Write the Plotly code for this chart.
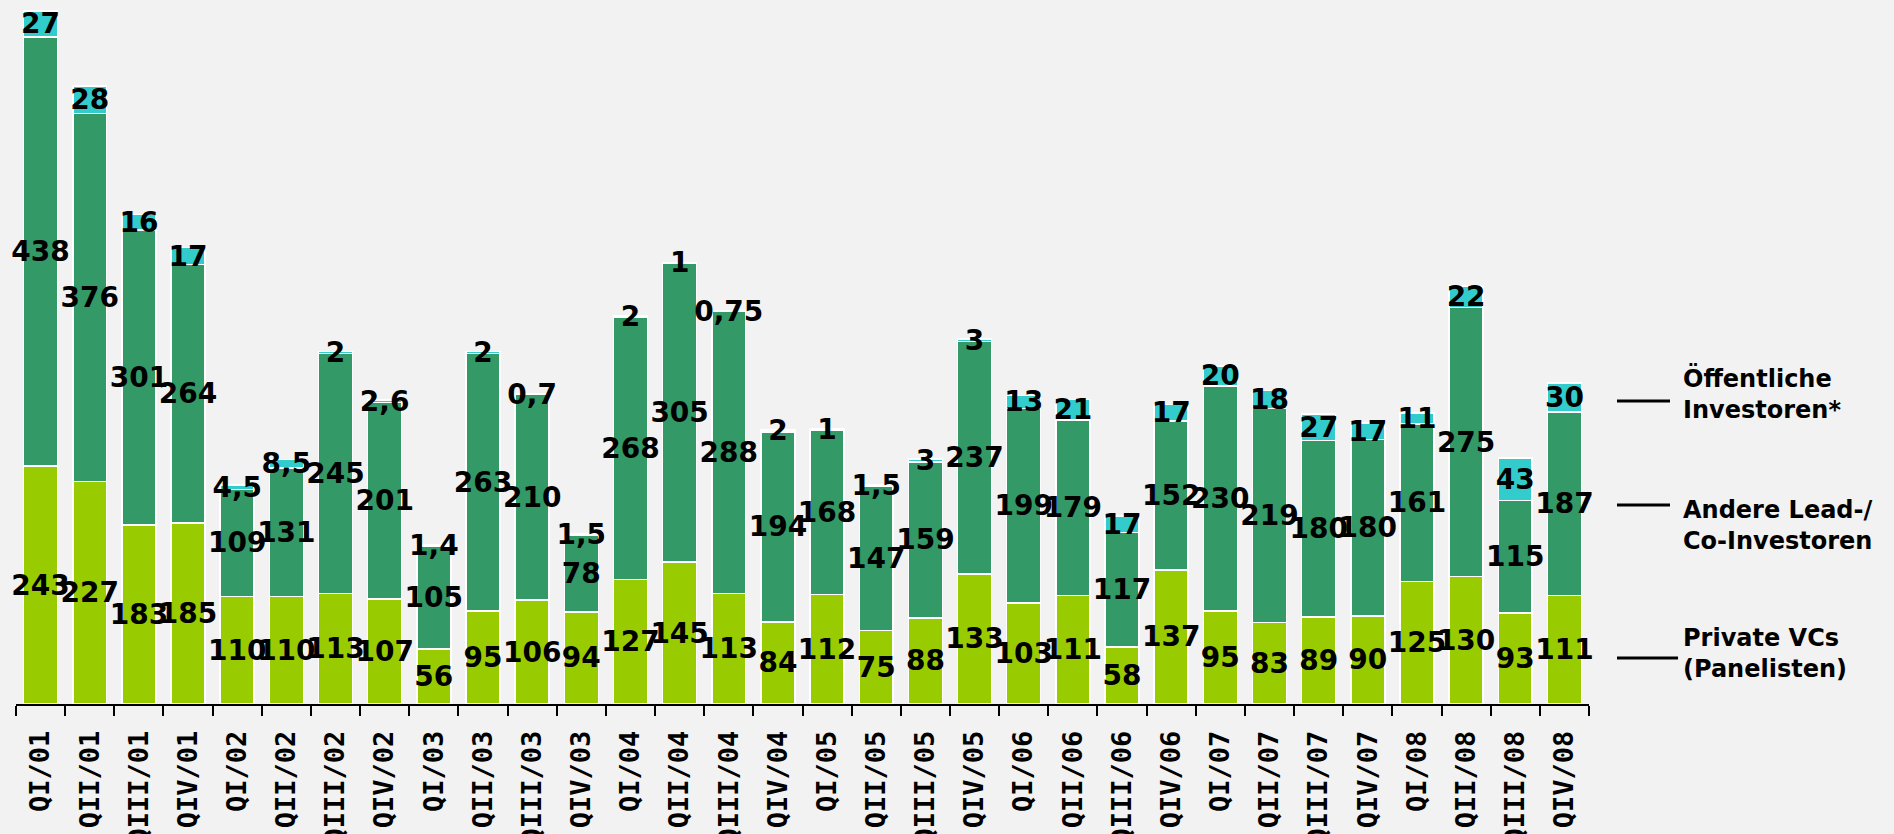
import plotly.graph_objects as go

quarters = ["QI/01", "QII/01", "QIII/01", "QIV/01",
            "QI/02", "QII/02", "QIII/02", "QIV/02",
            "QI/03", "QII/03", "QIII/03", "QIV/03",
            "QI/04", "QII/04", "QIII/04", "QIV/04",
            "QI/05", "QII/05", "QIII/05", "QIV/05",
            "QI/06", "QII/06", "QIII/06", "QIV/06",
            "QI/07", "QII/07", "QIII/07", "QIV/07",
            "QI/08", "QII/08", "QIII/08", "QIV/08"]

private_vcs = [243, 227, 183, 185, 110, 110, 113, 107, 56, 95, 106, 94,
               127, 145, 113, 84, 112, 75, 88, 133, 103, 111, 58, 137,
               95, 83, 89, 90, 125, 130, 93, 111]
andere = [438, 376, 301, 264, 109, 131, 245, 201, 105, 263, 210, 78,
          268, 305, 288, 194, 168, 147, 159, 237, 199, 179, 117, 152,
          230, 219, 180, 180, 161, 275, 115, 187]
oeffentliche = [27, 28, 16, 17, 4.5, 8.5, 2, 2.6, 1.4, 2, 0.7, 1.5,
                2, 1, 0.75, 2, 1, 1.5, 3, 3, 13, 21, 17, 17,
                20, 18, 27, 17, 11, 22, 43, 30]

series_names = ["Private VCs<br>(Panelisten)",
                "Andere Lead-/<br>Co-Investoren",
                "Öffentliche<br>Investoren*"]
colors = ["#99cc00", "#339966", "#33cccc"]


def fmt(v):
    s = ("%g" % v)
    return s.replace(".", ",")


fig = go.Figure()
for vals, name, col in zip([private_vcs, andere, oeffentliche], series_names, colors):
    fig.add_trace(go.Bar(
        x=quarters, y=vals, name=name,
        marker=dict(color=col, line=dict(color="white", width=1.5)),
        text=[fmt(v) for v in vals],
        textposition="inside",
        insidetextanchor="middle",
        constraintext="none",
        textangle=0,
        cliponaxis=False,
        textfont=dict(family="DejaVu Sans", size=28, color="black", weight="bold"),
        hoverinfo="skip",
    ))

fig.update_layout(
    barmode="stack",
    bargap=0.31,
    width=1894, height=834,
    margin=dict(l=16, r=305, t=0, b=130, autoexpand=False),
    paper_bgcolor="#f2f2f2",
    plot_bgcolor="#f2f2f2",
    showlegend=False,
    xaxis=dict(
        showline=True, linecolor="black", linewidth=2,
        ticks="outside", tickson="boundaries", ticklen=10, tickwidth=2, tickcolor="black",
        tickangle=-90,
        ticklabelstandoff=14,
        automargin=False,
        tickfont=dict(family="DejaVu Sans Mono", size=27, color="black", weight="bold"),
        showgrid=False,
    ),
    yaxis=dict(visible=False, range=[0, 719], showgrid=False, automargin=False),
)

# legend-style labels on the right
legend_items = [
    (series_names[2], 0.4304, 0.441, 1.0515),
    (series_names[1], 0.2827, 0.254, 1.0515),
    (series_names[0], 0.0653, 0.0717, 1.0566),
]
for text, ly, ty, x1 in legend_items:
    fig.add_shape(type="line", xref="paper", yref="paper",
                  x0=1.0178, x1=x1, y0=ly, y1=ly,
                  line=dict(color="black", width=3))
    fig.add_annotation(xref="paper", yref="paper", x=1.0585, y=ty,
                       xanchor="left", yanchor="middle", align="left",
                       text=text, showarrow=False,
                       font=dict(family="DejaVu Sans", size=24, color="black", weight="bold"))

fig.write_html("out.html",
               config={"displayModeBar": False},
               post_script="document.body.style.margin='0';document.body.style.overflow='hidden';")
